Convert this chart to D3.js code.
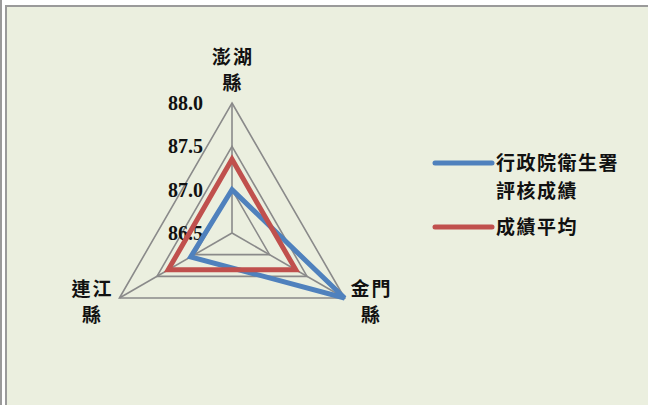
<!DOCTYPE html>
<html>
<head>
<meta charset="utf-8">
<script src="https://cdn.jsdelivr.net/npm/d3@7/dist/d3.min.js"></script>
<style>
  html, body { margin: 0; padding: 0; background: #fff; }
  svg { display: block; }
</style>
</head>
<body>
<svg id="chart"></svg>
<script>
// data
const categories = [["澎湖", "縣"], ["金門", "縣"], ["連江", "縣"]];
const seriesNames = [["行政院衛生署", "評核成績"], ["成績平均"]];
const scoreValues = [87.0, 88.0, 87.05];
const averageValues = [87.35, 87.35, 87.35];
const tickValues = [86.5, 87.0, 87.5, 88.0];
const seriesColors = ["#4F81BD", "#C0504D"];

const W = 648, H = 405;
const svg = d3.select("#chart").attr("width", W).attr("height", H);

// page frame
svg.append("rect").attr("x", 0).attr("y", 0).attr("width", W).attr("height", H).attr("fill", "#fff");
svg.append("line").attr("x1", 1).attr("x2", 1).attr("y1", 0).attr("y2", H)
   .attr("stroke", "#9a9a9a").attr("stroke-width", 2);
svg.append("rect").attr("x", 6).attr("y", 6).attr("width", W + 10).attr("height", H + 10)
   .attr("fill", "#EBEFDF").attr("stroke", "#9a9a9a").attr("stroke-width", 2);

const cx = 232, cy = 233, R = 130;
const r = d3.scaleLinear().domain([86.5, 88.0]).range([0, R]);
const angle = i => -Math.PI / 2 + i * 2 * Math.PI / categories.length;
const pt = (i, v) => [cx + r(v) * Math.cos(angle(i)), cy + r(v) * Math.sin(angle(i))];

const g = svg.append("g");

// rings
tickValues.filter(t => t > 86.5).forEach(t => {
  g.append("polygon")
   .attr("points", categories.map((c, i) => pt(i, t).join(",")).join(" "))
   .attr("fill", "none").attr("stroke", "#8a8a8a").attr("stroke-width", 1.6);
});
// spokes
categories.forEach((c, i) => {
  const [x, y] = pt(i, 88.0);
  g.append("line").attr("x1", cx).attr("y1", cy).attr("x2", x).attr("y2", y)
   .attr("stroke", "#8a8a8a").attr("stroke-width", 1.6);
});

// tick labels
g.selectAll(".tick").data(tickValues).enter().append("text")
  .attr("x", cx - 29).attr("y", d => cy - r(d))
  .attr("dy", "0.35em")
  .attr("text-anchor", "end")
  .attr("font-family", "'Liberation Serif', 'Times New Roman', serif")
  .attr("font-weight", "bold").attr("font-size", 20).attr("fill", "#111")
  .text(d => d.toFixed(1));

// series
const line = d3.line().curve(d3.curveLinearClosed);
[scoreValues, averageValues].forEach((vals, k) => {
  g.append("path")
   .attr("d", line(vals.map((v, i) => pt(i, v))))
   .attr("fill", "none").attr("stroke", seriesColors[k])
   .attr("stroke-width", 5).attr("stroke-linejoin", "miter");
});

// category labels
const cjk = "'Noto Sans CJK TC', 'Noto Sans CJK SC', sans-serif";
const labelOffset = [[0, -33], [26, 4], [-28, 4]];
categories.forEach((lines, i) => {
  const [x, y] = pt(i, 88.0);
  const t = g.append("text")
    .attr("text-anchor", "middle")
    .attr("font-family", cjk).attr("font-weight", "bold").attr("font-size", 19)
    .attr("letter-spacing", 2)
    .attr("fill", "#111");
  lines.forEach((s, j) => {
    t.append("tspan").attr("x", x + labelOffset[i][0] + 1)
     .attr("y", y + labelOffset[i][1] + (j - (lines.length - 1) / 2) * 26)
     .attr("dy", "0.35em").text(s);
  });
});

// legend
const legend = svg.append("g").attr("transform", "translate(435,163)");
const legendRows = [0, 64];
seriesNames.forEach((lines, k) => {
  const row = legend.append("g").attr("transform", `translate(0,${legendRows[k]})`);
  row.append("line").attr("x1", 0).attr("x2", 57).attr("y1", 0).attr("y2", 0)
     .attr("stroke", seriesColors[k]).attr("stroke-width", 5).attr("stroke-linecap", "round");
  const t = row.append("text")
     .attr("font-family", cjk).attr("font-weight", "bold").attr("font-size", 19)
     .attr("letter-spacing", 1.5)
     .attr("fill", "#111");
  lines.forEach((s, j) => {
    t.append("tspan").attr("x", 61).attr("y", j * 28).attr("dy", "0.35em").text(s);
  });
});
</script>
</body>
</html>
